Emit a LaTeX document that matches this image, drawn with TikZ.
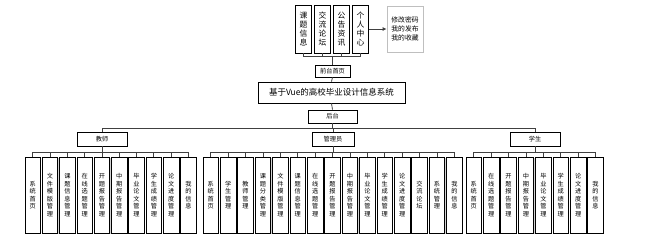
\documentclass[tikz,border=0pt]{standalone}
\usepackage{fontspec}
\newfontfamily\cjk{Noto Sans CJK SC}
\usetikzlibrary{arrows.meta,shadows}
\begin{document}
\begin{tikzpicture}[x=1pt,y=-1pt,
  box/.style={draw=black,line width=0.7pt,fill=white,inner sep=0pt,align=center,
    drop shadow={opacity=0.35,shadow xshift=0.8pt,shadow yshift=-0.8pt}},
  leaf/.style={box,minimum width=15.5pt,minimum height=76pt,text width=8pt,
    font=\cjk\fontsize{6.2}{7.5}\selectfont},
  topbox/.style={box,minimum width=16pt,minimum height=48pt,text width=9pt,
    font=\cjk\fontsize{7.8}{9.2}\selectfont},
  lbl/.style={box,minimum height=13pt,font=\cjk\fontsize{6.2}{7}\selectfont},
  conn/.style={draw=black!75,line width=0.8pt},
  ]
\useasboundingbox (0,0) rectangle (656,239);
% top modules
\node[topbox] (top1) at (303.5,29) {课\\题\\信\\息};
\node[topbox] (top2) at (322.5,29) {交\\流\\论\\坛};
\node[topbox] (top3) at (341.5,29) {公\\告\\资\\讯};
\node[topbox] (top4) at (360.5,29) {个\\人\\中\\心};
\node[draw=black!25,line width=0.7pt,fill=white,minimum width=36pt,minimum height=46pt,inner sep=0pt,align=center,
  font=\cjk\fontsize{6.8}{9}\selectfont,
  drop shadow={opacity=0.2,shadow xshift=0.8pt,shadow yshift=-0.8pt}] (side) at (405,29) {修改密码\\我的发布\\我的收藏};
\draw[conn,-{Latex[length=4pt,width=4pt]}] (top4.east) -- (side.west);
% front page
\node[lbl,minimum width=35pt,minimum height=12pt] (fp) at (332.5,71) {前台首页};
\foreach \i in {1,...,4} \draw[conn] (fp.north) -- ++(0,-8) -| (top\i.south);
\node[box,minimum width=147pt,minimum height=21pt,font=\cjk\fontsize{8.5}{10}\selectfont] (main) at (331.5,92.5) {基于Vue的高校毕业设计信息系统};
\draw[conn] (fp.south) -- (main.north);
\node[lbl,minimum width=49pt] (ht) at (332.5,116.5) {后台};
\draw[conn] (main.south) -- (ht.north);
% roles
\node[lbl,minimum width=50pt,minimum height=14pt] (teacher) at (102,139) {教师};
\node[lbl,minimum width=42pt,minimum height=14pt] (admin) at (333,139) {管理员};
\node[lbl,minimum width=50pt,minimum height=14pt] (student) at (535,139) {学生};
\foreach \r in {teacher,admin,student} \draw[conn] (ht.south) -- ++(0,5) -| (\r.north);
% teacher leaves
\foreach \lab [count=\i] in {{系\\统\\首\\页},{文\\件\\模\\版\\管\\理},{课\\题\\信\\息\\管\\理},{在\\线\\选\\题\\管\\理},{开\\题\\报\\告\\管\\理},{中\\期\\报\\告\\管\\理},{毕\\业\\论\\文\\管\\理},{学\\生\\成\\绩\\管\\理},{论\\文\\进\\度\\管\\理},{我\\的\\信\\息}}{
  \node[leaf] (t\i) at ({32.75+17.3*(\i-1)},195) {\lab};
  \draw[conn] (teacher.south) -- ++(0,6) -| (t\i.north);
}
% admin leaves
\foreach \lab [count=\i] in {{系\\统\\首\\页},{学\\生\\管\\理},{教\\师\\管\\理},{课\\题\\分\\类\\管\\理},{文\\件\\模\\版\\管\\理},{课\\题\\信\\息\\管\\理},{在\\线\\选\\题\\管\\理},{开\\题\\报\\告\\管\\理},{中\\期\\报\\告\\管\\理},{毕\\业\\论\\文\\管\\理},{学\\生\\成\\绩\\管\\理},{论\\文\\进\\度\\管\\理},{交\\流\\论\\坛},{系\\统\\管\\理},{我\\的\\信\\息}}{
  \node[leaf] (a\i) at ({210.75+17.4*(\i-1)},195) {\lab};
  \draw[conn] (admin.south) -- ++(0,6) -| (a\i.north);
}
% student leaves
\foreach \lab [count=\i] in {{系\\统\\首\\页},{在\\线\\选\\题\\管\\理},{开\\题\\报\\告\\管\\理},{中\\期\\报\\告\\管\\理},{毕\\业\\论\\文\\管\\理},{学\\生\\成\\绩\\管\\理},{论\\文\\进\\度\\管\\理},{我\\的\\信\\息}}{
  \node[leaf] (s\i) at ({473.75+17.4*(\i-1)},195) {\lab};
  \draw[conn] (student.south) -- ++(0,6) -| (s\i.north);
}
\end{tikzpicture}
\end{document}
